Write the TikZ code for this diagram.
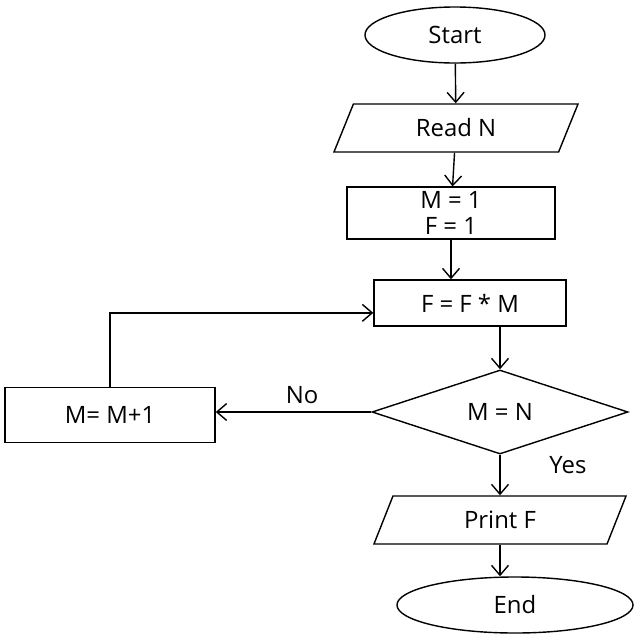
\documentclass[tikz,border=0pt]{standalone}
\usepackage{fontspec}
\setmainfont{Open Sans}
\usetikzlibrary{arrows.meta,positioning,shapes.geometric}

\begin{document}
\begin{tikzpicture}[x=0.025cm, y=-0.025cm,
  term/.style={
    draw, ellipse, line width=1pt,
    minimum width=#1, minimum height=1.4cm,
    font=\fontsize{17}{20}\selectfont
  },
  io/.style={
    draw, trapezium, trapezium left angle=55, trapezium right angle=125,
    trapezium stretches body, line width=1pt,
    minimum width=#1, minimum height=1.2cm,
    font=\fontsize{17}{20}\selectfont
  },
  box/.style={
    draw, line width=1pt,
    minimum width=#1, minimum height=1.15cm, align=center,
    font=\fontsize{17}{18}\selectfont
  },
  test/.style={
    draw, diamond, aspect=3, line width=1pt,
    minimum width=6.4cm, minimum height=2.1cm,
    font=\fontsize{17}{20}\selectfont
  },
  arr/.style={-{Straight Barb[length=7pt,width=12pt]}, line width=1pt},
  ann/.style={font=\fontsize{17}{20}\selectfont}]

\useasboundingbox (0,0) rectangle (640,640);

% Main column
\node[term=4.5cm]  (st) at (455,35)  {Start};
\node[io=6.1cm]    (rd) at (456,128) {Read N};
\node[box=5.2cm]   (in) at (451,213) {M = 1\\F = 1};
\node[box=4.8cm]   (fm) at (470,303) {F = F * M};
\node[test]        (tq) at (500,412) {M = N};
\node[io=6.3cm]    (pr) at (500,520) {Print F};
\node[term=5.9cm]  (en) at (515,605) {End};

% Loop box
\node[box=5.25cm, minimum height=1.38cm] (mm) at (110,415) {M= M+1};

% Connecting arrows
\draw[arr] (st) -- (rd);
\draw[arr] (rd) -- (in);
\draw[arr] (in) -- (in |- fm.north);
\draw[arr] (tq.north |- fm.south) -- (tq.north);
\draw[arr] (tq.south) -- (tq.south |- pr.north);
\draw[arr] (pr.south -| tq.south) -- (tq.south |- en.north);
\draw[arr] (tq.west) -- (tq.west -| mm.east);
\draw[arr] (mm.north) |- ([yshift=-7pt]fm.west);

% Branch labels
\node[ann] (no)  at (302,395) {No};
\node[ann] (yes) at (568,465) {Yes};

\end{tikzpicture}
\end{document}
